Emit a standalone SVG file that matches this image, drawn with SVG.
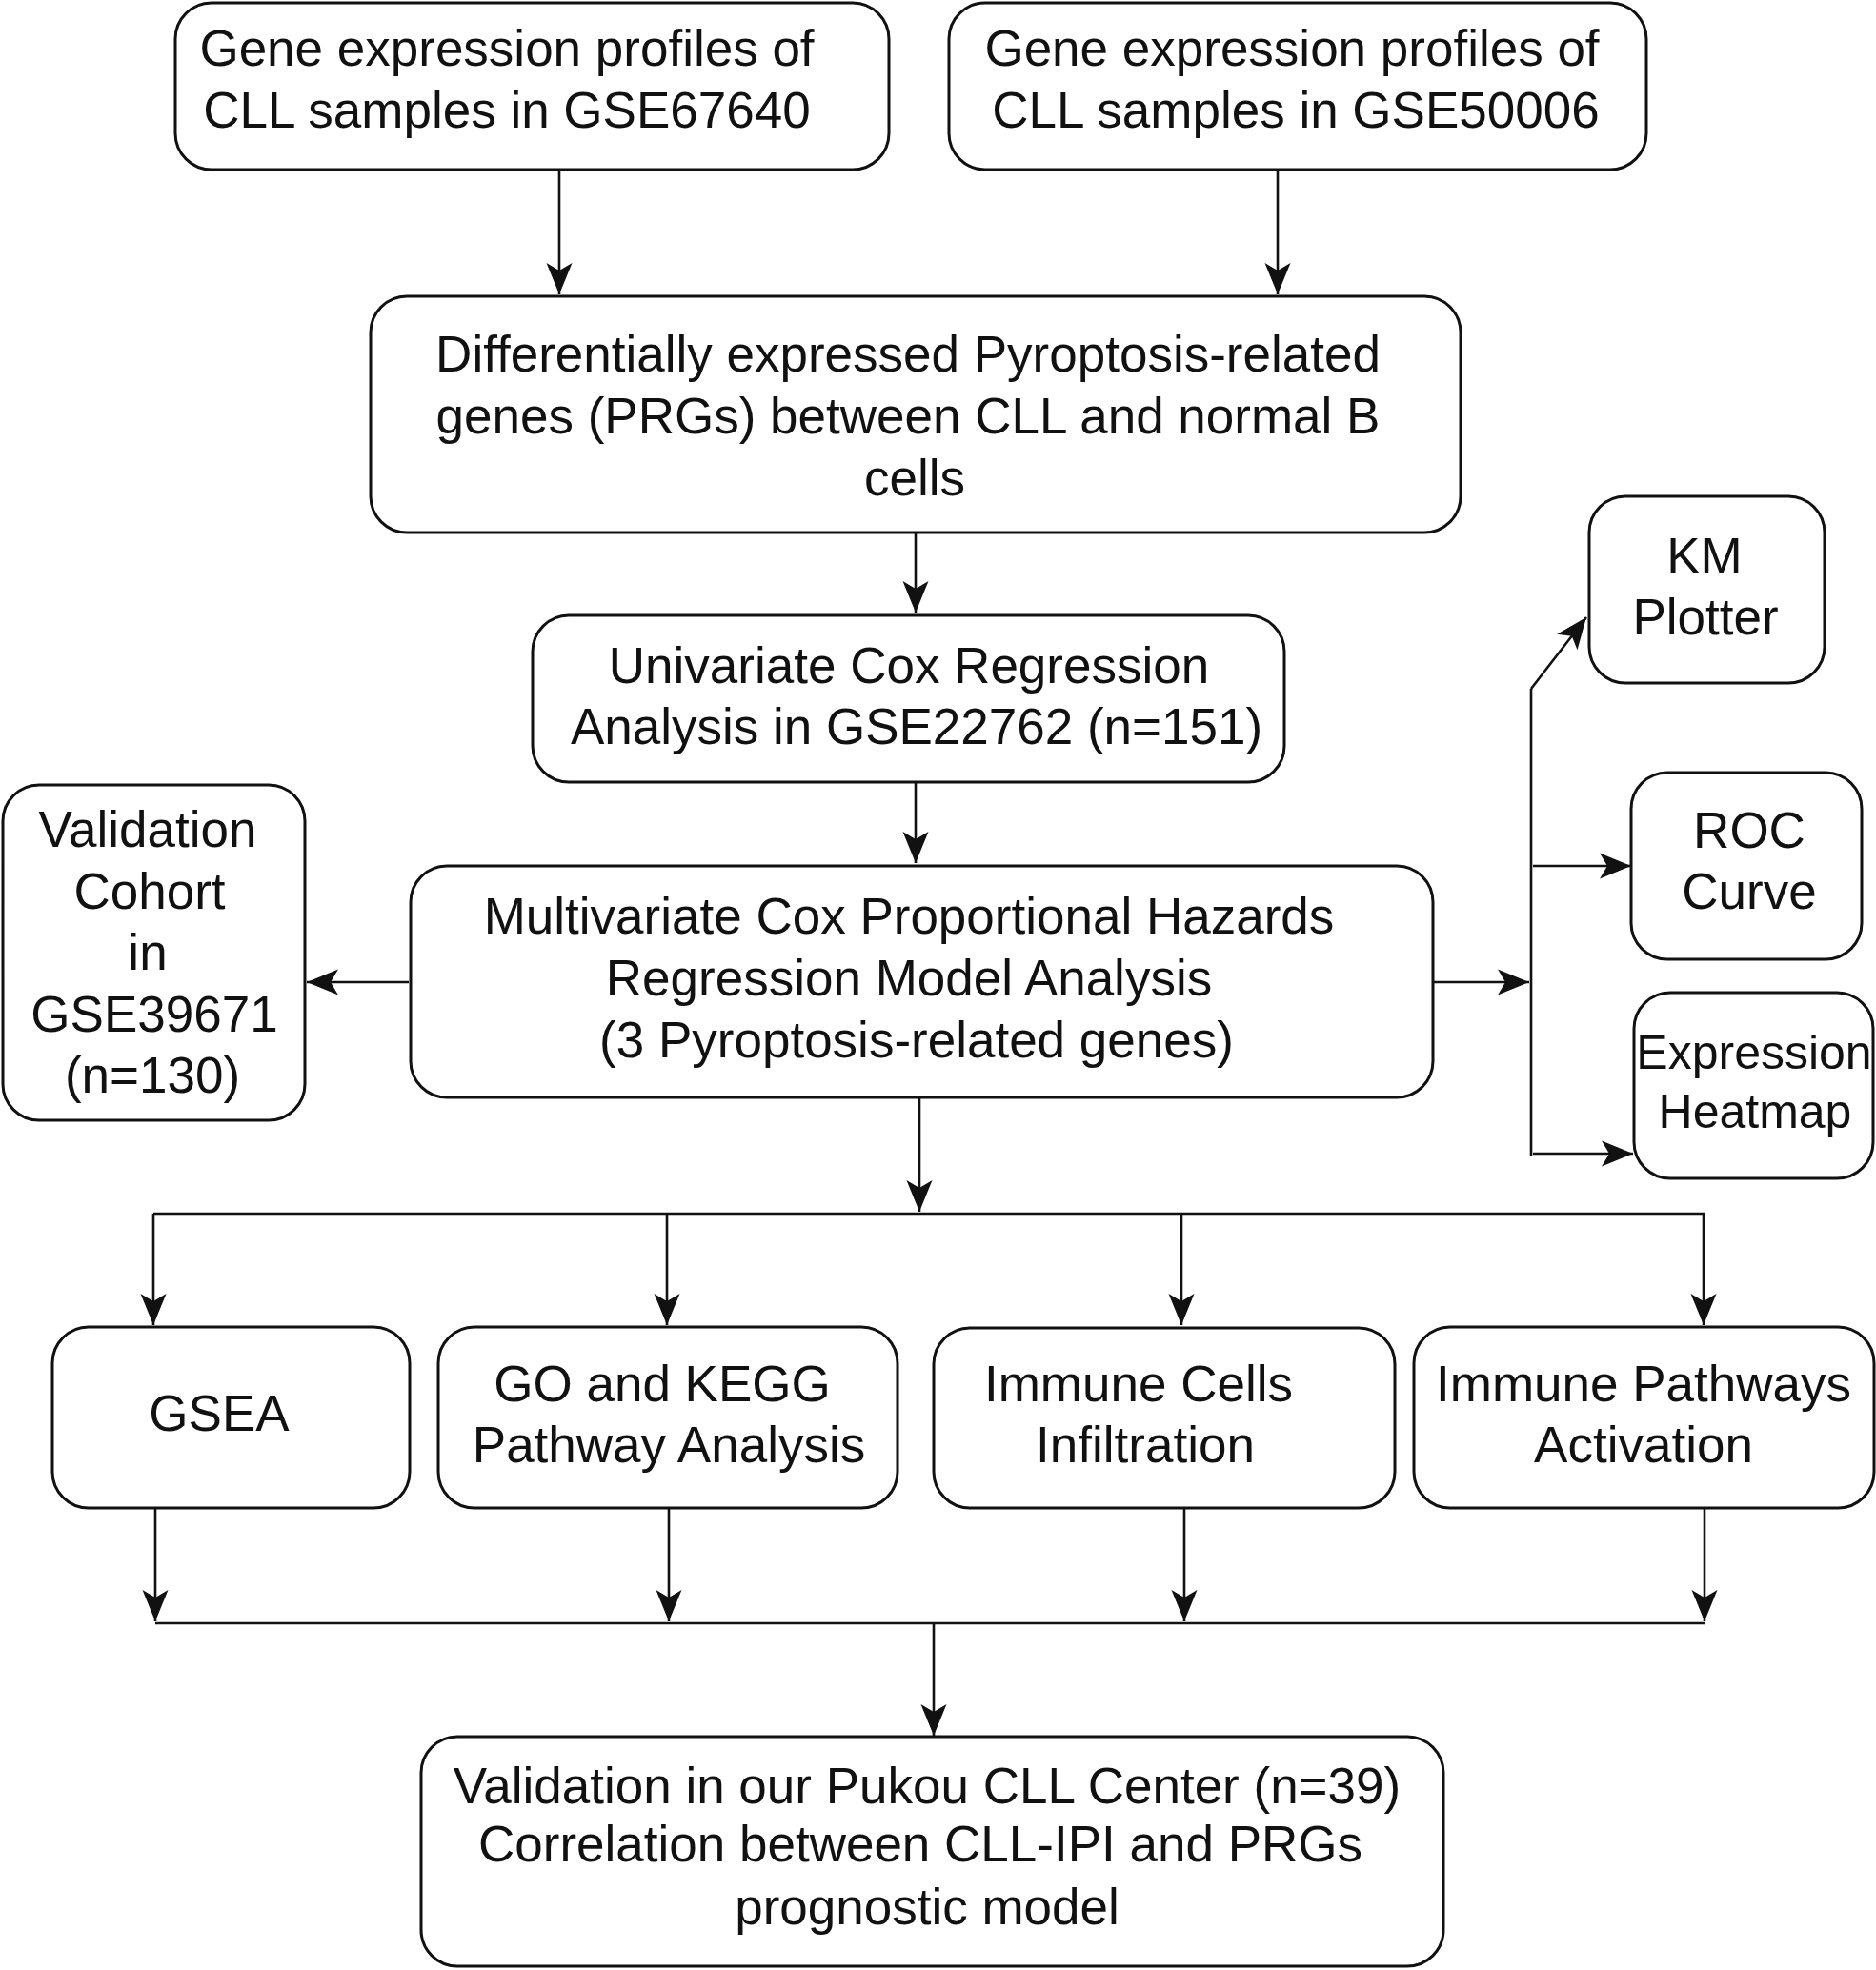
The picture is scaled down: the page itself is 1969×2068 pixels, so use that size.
<svg xmlns="http://www.w3.org/2000/svg" width="1969" height="2068" viewBox="0 0 1969 2068">
<style>
.box{fill:#fff;stroke:#111;stroke-width:3}
.t{font-family:"Liberation Sans",Arial,sans-serif;font-size:53px;fill:#111;text-anchor:middle}
.s{font-size:50px}
.ln{fill:none;stroke:#111;stroke-width:2.6}
.ar{fill:none;stroke:#111;stroke-width:2.6;marker-end:url(#ah)}
</style>
<defs>
<marker id="ah" viewBox="-36 -15 38 30" markerWidth="38" markerHeight="30" refX="0" refY="0" markerUnits="userSpaceOnUse" orient="auto">
<path d="M0,0 L-33,-13.5 L-25,0 L-33,13.5 Z" fill="#111"/>
</marker>
</defs>
<rect width="1969" height="2068" fill="#fff"/>
<g id="connectors">
<line class="ar" x1="587" y1="178" x2="587" y2="309"/>
<line class="ar" x1="1341" y1="178" x2="1341" y2="309"/>
<line class="ar" x1="961" y1="560" x2="961" y2="643"/>
<line class="ar" x1="961" y1="822" x2="961" y2="906"/>
<line class="ar" x1="429" y1="1031" x2="322" y2="1031"/>
<line class="ar" x1="1504" y1="1031" x2="1605" y2="1031"/>
<line class="ln" x1="1607" y1="723" x2="1607" y2="1214"/>
<line class="ar" x1="1607" y1="723" x2="1665" y2="648"/>
<line class="ar" x1="1609" y1="909" x2="1712" y2="909"/>
<line class="ar" x1="1609" y1="1211" x2="1714" y2="1211"/>
<line class="ar" x1="965" y1="1152" x2="965" y2="1272"/>
<line class="ln" x1="161" y1="1274" x2="1789" y2="1274"/>
<line class="ar" x1="161" y1="1274" x2="161" y2="1391"/>
<line class="ar" x1="700" y1="1274" x2="700" y2="1391"/>
<line class="ar" x1="1240" y1="1274" x2="1240" y2="1391"/>
<line class="ar" x1="1788" y1="1274" x2="1788" y2="1391"/>
<line class="ar" x1="163" y1="1583" x2="163" y2="1702"/>
<line class="ar" x1="702" y1="1583" x2="702" y2="1702"/>
<line class="ar" x1="1243" y1="1583" x2="1243" y2="1702"/>
<line class="ar" x1="1789" y1="1583" x2="1789" y2="1702"/>
<line class="ln" x1="163" y1="1704" x2="1789" y2="1704"/>
<line class="ar" x1="980" y1="1704" x2="980" y2="1822"/>
</g>
<g id="n1"><rect class="box" x="184" y="3" width="749" height="175" rx="38"/>
<text class="t" x="532" y="69">Gene expression profiles of</text>
<text class="t" x="532" y="134">CLL samples in GSE67640</text></g>
<g id="n2"><rect class="box" x="996" y="3" width="732" height="175" rx="38"/>
<text class="t" x="1356" y="69">Gene expression profiles of</text>
<text class="t" x="1360" y="134">CLL samples in GSE50006</text></g>
<g id="n3"><rect class="box" x="389" y="311" width="1144" height="248" rx="38"/>
<text class="t" x="953" y="390">Differentially expressed Pyroptosis-related</text>
<text class="t" x="953" y="455">genes (PRGs) between CLL and normal B</text>
<text class="t" x="960" y="520">cells</text></g>
<g id="n4"><rect class="box" x="559" y="646" width="789" height="175" rx="38"/>
<text class="t" x="954" y="717">Univariate Cox Regression</text>
<text class="t" x="962" y="781">Analysis in GSE22762 (n=151)</text></g>
<g id="n5"><rect class="box" x="431" y="909" width="1073" height="243" rx="38"/>
<text class="t" x="954" y="980">Multivariate Cox Proportional Hazards</text>
<text class="t" x="954" y="1045">Regression Model Analysis</text>
<text class="t" x="962" y="1110">(3 Pyroptosis-related genes)</text></g>
<g id="n6"><rect class="box" x="3" y="824" width="317" height="352" rx="38"/>
<text class="t" x="155" y="889">Validation</text>
<text class="t" x="157" y="954">Cohort</text>
<text class="t" x="155" y="1018">in</text>
<text class="t" x="162" y="1083">GSE39671</text>
<text class="t" x="160" y="1147">(n=130)</text></g>
<g id="n7"><rect class="box" x="1668" y="521" width="247" height="196" rx="38"/>
<text class="t" x="1789" y="602">KM</text>
<text class="t" x="1790" y="666">Plotter</text></g>
<g id="n8"><rect class="box" x="1712" y="811" width="242" height="196" rx="38"/>
<text class="t" x="1836" y="890">ROC</text>
<text class="t" x="1836" y="954">Curve</text></g>
<g id="n9"><rect class="box" x="1715" y="1042" width="251" height="195" rx="38"/>
<text class="t s" x="1841" y="1122">Expression</text>
<text class="t s" x="1842" y="1184">Heatmap</text></g>
<g id="n10"><rect class="box" x="55" y="1393" width="375" height="190" rx="38"/>
<text class="t" x="230" y="1502">GSEA</text></g>
<g id="n11"><rect class="box" x="460" y="1393" width="482" height="190" rx="38"/>
<text class="t" x="695" y="1471">GO and KEGG</text>
<text class="t" x="702" y="1535">Pathway Analysis</text></g>
<g id="n12"><rect class="box" x="980" y="1394" width="484" height="189" rx="38"/>
<text class="t" x="1195" y="1471">Immune Cells</text>
<text class="t" x="1202" y="1535">Infiltration</text></g>
<g id="n13"><rect class="box" x="1484" y="1393" width="483" height="190" rx="38"/>
<text class="t" x="1725" y="1471">Immune Pathways</text>
<text class="t" x="1725" y="1535">Activation</text></g>
<g id="n14"><rect class="box" x="442" y="1823" width="1073" height="241" rx="38"/>
<text class="t" x="973" y="1893">Validation in our Pukou CLL Center (n=39)</text>
<text class="t" x="966" y="1954">Correlation between CLL-IPI and PRGs</text>
<text class="t" x="973" y="2020">prognostic model</text></g>
</svg>
